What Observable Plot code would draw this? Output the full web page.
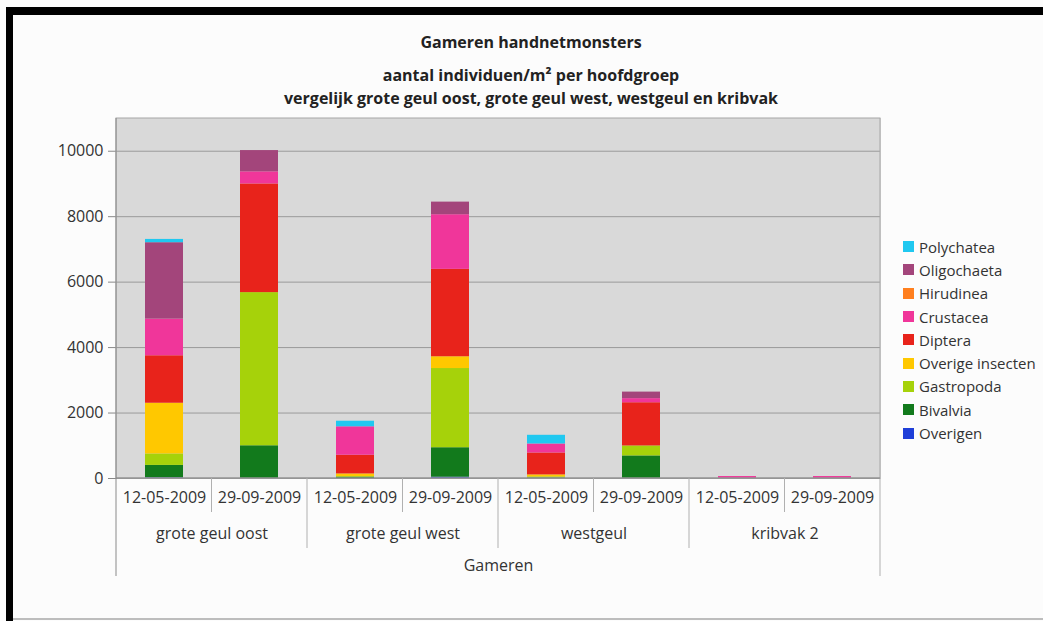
<!DOCTYPE html>
<html><head><meta charset="utf-8">
<script src="https://cdn.jsdelivr.net/npm/d3@7"></script>
<script src="https://cdn.jsdelivr.net/npm/@observablehq/plot@0.6"></script>
<style>
html,body{margin:0;padding:0;background:#fff;}
#wrap{position:relative;width:1043px;height:621px;background:#fcfcfc;overflow:hidden;font-family:"Open Sans",sans-serif;color:#333;}
#frameTop{position:absolute;left:6px;top:7px;width:1037px;height:8px;background:#000;}
#frameLeft{position:absolute;left:6px;top:7px;width:7px;height:614px;background:#000;}
#frameBottom{position:absolute;left:13px;top:618px;width:1030px;height:2px;background:#bdbdbd;}
.title{position:absolute;left:531px;transform:translateX(-50%);white-space:nowrap;font-weight:700;font-size:16px;line-height:22px;color:#222;}
#chart{position:absolute;left:0;top:100px;}
#legend{position:absolute;left:903px;top:235px;}
.li{height:23.3px;display:flex;align-items:center;font-size:15px;color:#333;white-space:nowrap;}
.sw{width:11px;height:11px;margin-right:5px;flex:none;}
</style></head><body>
<div id="wrap">
  <div id="frameTop"></div><div id="frameLeft"></div><div id="frameBottom"></div>
  <div class="title" style="top:31px">Gameren handnetmonsters</div>
  <div class="title" style="top:64px">aantal individuen/m² per hoofdgroep</div>
  <div class="title" style="top:87px">vergelijk grote geul oost, grote geul west, westgeul en kribvak</div>
  <div id="chart"></div>
  <div id="legend"></div>
</div>
<script>
const groups = ["grote geul oost", "grote geul west", "westgeul", "kribvak 2"];
const dates = ["12-05-2009", "29-09-2009"];
const series = ["Overigen", "Bivalvia", "Gastropoda", "Overige insecten", "Diptera", "Crustacea", "Hirudinea", "Oligochaeta", "Polychatea"];
const colors = ["#1f3fd8", "#127a1c", "#a6d20a", "#ffc800", "#e8231b", "#f0369a", "#ff7f1e", "#a3457b", "#20c8f0"];
// values per series, in order: gg oost 12-05, gg oost 29-09, gg west 12-05, gg west 29-09, westgeul 12-05, westgeul 29-09, kribvak 12-05, kribvak 29-09
const overigen        = [20, 0, 0, 40, 0, 0, 0, 0];
const bivalvia        = [380, 1000, 40, 900, 20, 690, 0, 0];
const gastropoda      = [350, 4680, 20, 2420, 30, 305, 0, 0];
const overigeInsecten = [1550, 0, 80, 360, 60, 0, 0, 0];
const diptera         = [1450, 3320, 570, 2670, 670, 1320, 0, 0];
const crustacea       = [1120, 370, 870, 1670, 275, 125, 60, 60];
const hirudinea       = [0, 0, 0, 0, 0, 0, 0, 0];
const oligochaeta     = [2335, 650, 0, 385, 0, 200, 0, 0];
const polychatea      = [100, 0, 170, 0, 265, 0, 0, 0];
const yTicks = [0, 2000, 4000, 6000, 8000, 10000];

const valuesBySeries = [overigen, bivalvia, gastropoda, overigeInsecten, diptera, crustacea, hirudinea, oligochaeta, polychatea];
const data = [];
series.forEach((s, si) => {
  valuesBySeries[si].forEach((v, i) => {
    data.push({series: s, group: groups[Math.floor(i / 2)], date: dates[i % 2], value: v});
  });
});

const plot = Plot.plot({
  width: 1043, height: 500,
  marginLeft: 114, marginRight: 162, marginTop: 18, marginBottom: 122,
  style: {background: "transparent", fontFamily: "'Open Sans', sans-serif", fontSize: "16px", color: "#333"},
  fx: {domain: groups, padding: 0, label: null},
  x: {domain: dates, paddingInner: 0.6, paddingOuter: 0.3, label: null},
  y: {domain: [0, 11000], label: null},
  color: {domain: series, range: colors},
  marks: [
    Plot.frame({fill: "#d9d9d9", stroke: "#d9d9d9"}),
    Plot.gridY(yTicks, {stroke: "#9a9a9a", strokeOpacity: 1}),
    Plot.barY(data, {fx: "group", x: "date", y: "value", fill: "series"}),
    Plot.axisY(yTicks, {tickSize: 8, tickPadding: 5, stroke: "#888", fill: "#333", fontSize: 16, label: null, tickFormat: d => String(d)}),
    Plot.axisX({tickSize: 0, tickPadding: 13, fill: "#333", fontSize: 16, label: null}),
    Plot.axisFx({anchor: "bottom", tickSize: 0, tickPadding: 49, fill: "#333", fontSize: 16, label: "Gameren", labelAnchor: "center", labelOffset: 92})
  ]
});
document.getElementById("chart").appendChild(plot);

// category separators and plot-area border, positioned with Plot's own scales
const fx = plot.scale("fx"), y = plot.scale("y");
const y0 = y.apply(0), yTop = y.apply(11000);
const bw = fx.bandwidth;
const xLeft = fx.apply(groups[0]), xRight = fx.apply(groups[groups.length - 1]) + bw;
const svg = d3.select(plot);
const g = svg.append("g").attr("fill", "none");
g.append("rect").attr("x", xLeft).attr("y", yTop).attr("width", xRight - xLeft).attr("height", y0 - yTop).attr("stroke", "#a6a6a6");
g.append("line").attr("x1", xLeft).attr("x2", xLeft).attr("y1", yTop).attr("y2", y0 + 98).attr("stroke", "#8a8a8a");
g.append("line").attr("x1", xRight).attr("x2", xRight).attr("y1", y0).attr("y2", y0 + 98).attr("stroke", "#b0b0b0");
g.append("line").attr("x1", xLeft).attr("x2", xRight).attr("y1", y0).attr("y2", y0).attr("stroke", "#8a8a8a");
groups.forEach((gr, i) => {
  const left = fx.apply(gr);
  g.append("line").attr("x1", left + bw / 2).attr("x2", left + bw / 2).attr("y1", y0).attr("y2", y0 + 34).attr("stroke", "#b0b0b0");
  if (i > 0) g.append("line").attr("x1", left).attr("x2", left).attr("y1", y0).attr("y2", y0 + 70).attr("stroke", "#b0b0b0");
});

// legend (top entry = top of stack)
const legend = d3.select("#legend");
series.slice().reverse().forEach(s => {
  const row = legend.append("div").attr("class", "li");
  row.append("div").attr("class", "sw").style("background", colors[series.indexOf(s)]);
  row.append("span").text(s);
});
</script>
</body></html>
